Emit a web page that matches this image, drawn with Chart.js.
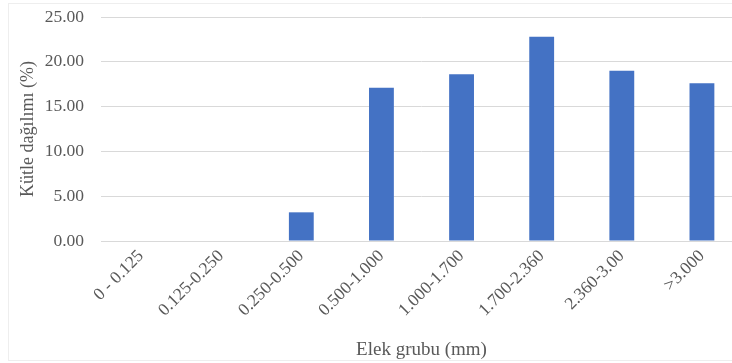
<!DOCTYPE html>
<html>
<head>
<meta charset="utf-8">
<script src="https://cdn.jsdelivr.net/npm/chart.js@4.4.1/dist/chart.umd.min.js"></script>
<style>
  html, body { margin: 0; padding: 0; background: #fff; overflow: hidden; }
  #wrap { width: 742px; height: 363px; position: relative; }
</style>
</head>
<body>
<div id="wrap"><canvas id="elek-chart"></canvas></div>
<script>
// veri
const kategoriler = ["0 - 0.125", "0.125-0.250", "0.250-0.500", "0.500-1.000",
                     "1.000-1.700", "1.700-2.360", "2.360-3.00", ">3.000"];
const kutleDagilimi = [0, 0, 3.2, 17.1, 18.6, 22.8, 19.0, 17.6];
const yEksenMin = 0;
const yEksenMax = 25;
const yEksenAdim = 5;

const serif = "'Liberation Serif', 'Times New Roman', serif";
const yaziRengi = "#595959";
const cizgiRengi = "#d9d9d9";

// hafif cerceve (Excel grafik alani)
const cercevePlugin = {
    id: "cerceve",
    beforeDraw(chart) {
        const c = chart.ctx;
        c.save();
        c.strokeStyle = "#eeeeee";
        c.lineWidth = 1;
        c.strokeRect(8.5, 3.5, chart.width + 10, chart.height - 6);
        c.restore();
    }
};

new Chart(document.getElementById("elek-chart"), {
    type: "bar",
    data: {
        labels: kategoriler,
        datasets: [{
            data: kutleDagilimi,
            backgroundColor: "#4472c4",
            borderWidth: 0,
            barPercentage: 0.62,
            categoryPercentage: 0.5
        }]
    },
    options: {
        responsive: true,
        maintainAspectRatio: false,
        animation: false,
        layout: { padding: { left: 8, top: 17, right: 0, bottom: 0 } },
        plugins: {
            legend: { display: false },
            tooltip: { enabled: false }
        },
        scales: {
            x: {
                grid: { display: false, drawTicks: false },
                border: { display: true, color: cizgiRengi, width: 1 },
                ticks: {
                    color: yaziRengi,
                    font: { family: serif, size: 17.5 },
                    maxRotation: 45,
                    minRotation: 45,
                    padding: 5
                },
                title: {
                    display: true,
                    text: "Elek grubu (mm)",
                    color: yaziRengi,
                    font: { family: serif, size: 19 },
                    padding: { top: 0, bottom: 2 }
                },
                afterFit: (scale) => { scale.height = 122; }
            },
            y: {
                min: yEksenMin,
                max: yEksenMax,
                grid: { color: cizgiRengi, drawTicks: false },
                border: { display: false },
                ticks: {
                    stepSize: yEksenAdim,
                    color: yaziRengi,
                    font: { family: serif, size: 17.5 },
                    padding: 17,
                    callback: (v) => Number(v).toFixed(2)
                },
                title: {
                    display: true,
                    text: "Kütle dağılımı (%)",
                    color: yaziRengi,
                    font: { family: serif, size: 18 },
                    padding: { top: 9, bottom: 0 }
                },
                afterFit: (scale) => {
                    scale.width = 93;
                    scale.paddingTop = 0;
                    scale.paddingBottom = 0;
                }
            }
        }
    },
    plugins: [cercevePlugin]
});
</script>
</body>
</html>
